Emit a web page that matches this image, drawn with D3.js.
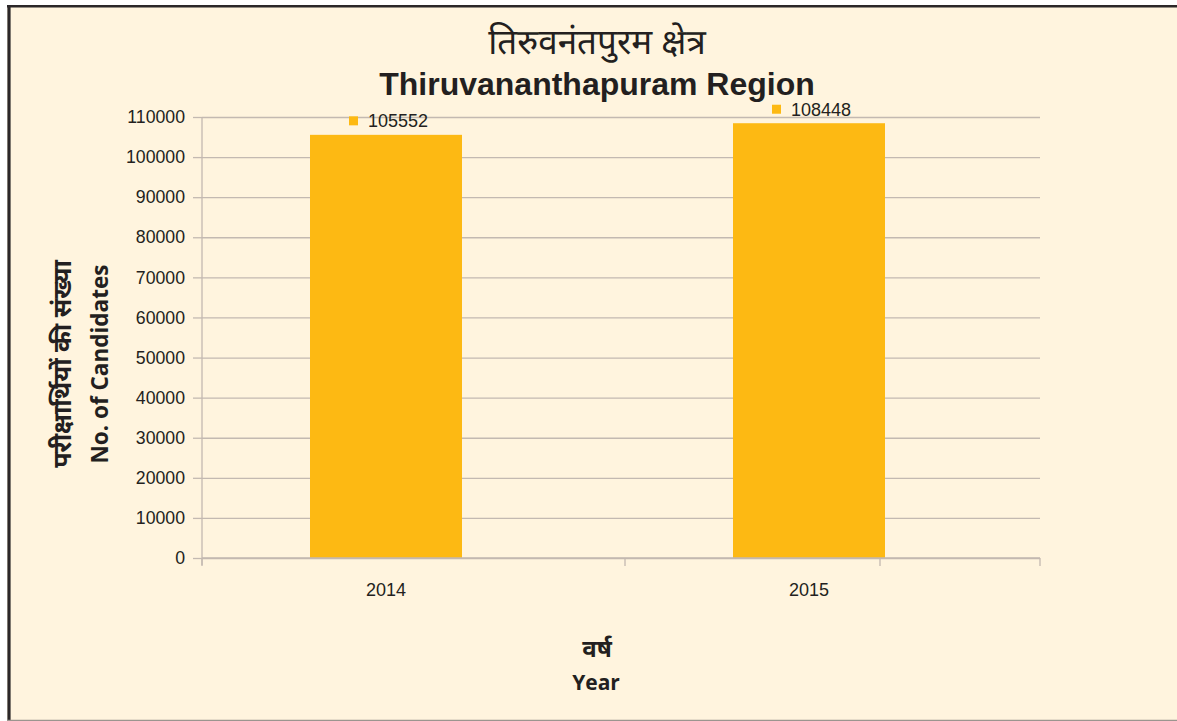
<!DOCTYPE html>
<html>
<head>
<meta charset="utf-8">
<script src="https://cdn.jsdelivr.net/npm/d3@7/dist/d3.min.js"></script>
<style>
  html, body { margin: 0; padding: 0; background: #ffffff; }
  svg { display: block; }
</style>
</head>
<body>
<svg id="chart" width="1177" height="721"></svg>
<script>
// Candidates per year, Thiruvananthapuram region
const categories = ["2014", "2015"];
const candidates = [105552, 108448];
const yTickValues = [0, 10000, 20000, 30000, 40000, 50000, 60000, 70000, 80000, 90000, 100000, 110000];

const titleHindi = "तिरुवनंतपुरम क्षेत्र";
const titleEnglish = "Thiruvananthapuram Region";
const yTitleHindi = "परीक्षार्थियों की संख्या";
const yTitleEnglish = "No. of Candidates";
const xTitleHindi = "वर्ष";
const xTitleEnglish = "Year";

const W = 1177, H = 721;
const plot = { left: 202, right: 1040, top: 117, bottom: 558 };
const barWidth = 152;
const barColor = "#FDB913";
const gridColor = "#C3B9B1";
const textColor = "#231F20";
const numFont = "'Liberation Sans', Arial, sans-serif";
const devaFont = "'Noto Sans Devanagari', 'Noto Sans', 'Lohit Devanagari', sans-serif";

const svg = d3.select("#chart");

// panel background and frame
svg.append("rect").attr("x", 7).attr("y", 5).attr("width", W - 7).attr("height", H - 5)
  .attr("fill", "#FFF4DE");
svg.append("line").attr("x1", 7).attr("x2", W).attr("y1", 6.2).attr("y2", 6.2)
  .attr("stroke", "#2B2728").attr("stroke-width", 2.5);
svg.append("line").attr("x1", 9).attr("x2", 9).attr("y1", 5).attr("y2", H)
  .attr("stroke", "#2B2728").attr("stroke-width", 3.2);
svg.append("line").attr("x1", 7).attr("x2", W).attr("y1", 720.5).attr("y2", 720.5)
  .attr("stroke", "#9B958F").attr("stroke-width", 1.5);

const y = d3.scaleLinear().domain([0, 110000]).range([plot.bottom, plot.top]);
const x = d3.scalePoint().domain(categories).range([386, 809]);

// horizontal gridlines
svg.append("g")
  .attr("transform", `translate(${plot.left},0)`)
  .call(d3.axisLeft(y).tickValues(yTickValues).tickSize(-(plot.right - plot.left)).tickFormat(""))
  .call(g => g.select(".domain").remove())
  .call(g => g.selectAll(".tick line").attr("stroke", gridColor).attr("stroke-width", 1.3));

// y axis with labels
svg.append("g")
  .attr("transform", `translate(${plot.left},0)`)
  .call(d3.axisLeft(y).tickValues(yTickValues).tickSize(9).tickPadding(8).tickFormat(d3.format("d")))
  .call(g => g.select(".domain").attr("d", `M0,${plot.top}V${plot.bottom + 7}`)
      .attr("stroke", gridColor).attr("stroke-width", 1.3))
  .call(g => g.selectAll(".tick line").attr("stroke", gridColor).attr("stroke-width", 1.3))
  .call(g => g.selectAll(".tick text")
      .attr("fill", textColor)
      .style("font-family", numFont)
      .style("font-size", "17.7px"));

// bars
svg.append("g").selectAll("rect")
  .data(candidates)
  .join("rect")
  .attr("x", (d, i) => x(categories[i]) - barWidth / 2)
  .attr("width", barWidth)
  .attr("y", d => y(d))
  .attr("height", d => y(0) - y(d))
  .attr("fill", barColor);

// x axis baseline with boundary ticks
const xAxisTicks = [plot.left, 625, 880, plot.right];
const xa = svg.append("g");
xa.append("line").attr("x1", plot.left).attr("x2", plot.right)
  .attr("y1", plot.bottom).attr("y2", plot.bottom)
  .attr("stroke", gridColor).attr("stroke-width", 1.5);
xa.selectAll("line.tk").data(xAxisTicks).join("line").attr("class", "tk")
  .attr("x1", d => d).attr("x2", d => d)
  .attr("y1", plot.bottom).attr("y2", plot.bottom + 8)
  .attr("stroke", gridColor).attr("stroke-width", 1.3);
xa.selectAll("text").data(categories).join("text")
  .attr("x", d => x(d)).attr("y", 596)
  .attr("text-anchor", "middle")
  .attr("fill", textColor)
  .style("font-family", numFont)
  .style("font-size", "18px")
  .text(d => d);

// value labels with series marker
const lbl = svg.append("g").selectAll("g")
  .data(candidates)
  .join("g")
  .attr("transform", (d, i) => `translate(${x(categories[i])},${y(d) - 14})`);
lbl.append("rect").attr("x", -37).attr("y", -4.5).attr("width", 9).attr("height", 9).attr("fill", barColor);
lbl.append("text").attr("x", -18).attr("y", 6.5)
  .attr("fill", textColor)
  .style("font-family", numFont)
  .style("font-size", "18px")
  .text(d => d);

// titles
svg.append("text").attr("x", 597).attr("y", 54).attr("text-anchor", "middle")
  .attr("fill", textColor)
  .style("font-family", devaFont).style("font-size", "35px")
  .text(titleHindi);
svg.append("text").attr("x", 597).attr("y", 95).attr("text-anchor", "middle")
  .attr("fill", textColor)
  .style("font-family", numFont).style("font-weight", "bold").style("font-size", "32px")
  .text(titleEnglish);

// y axis titles
svg.append("text").attr("transform", "translate(71,364) rotate(-90)").attr("text-anchor", "middle")
  .attr("fill", textColor)
  .style("font-family", devaFont).style("font-weight", "bold").style("font-size", "25px")
  .text(yTitleHindi);
svg.append("text").attr("transform", "translate(108,364) rotate(-90)").attr("text-anchor", "middle")
  .attr("fill", textColor)
  .style("font-family", "'Open Sans', sans-serif").style("font-weight", "bold").style("font-size", "22.5px")
  .text(yTitleEnglish);

// x axis titles
svg.append("text").attr("x", 597).attr("y", 657).attr("text-anchor", "middle")
  .attr("fill", textColor)
  .style("font-family", devaFont).style("font-weight", "bold").style("font-size", "24px")
  .text(xTitleHindi);
svg.append("text").attr("x", 596).attr("y", 690).attr("text-anchor", "middle")
  .attr("fill", textColor)
  .style("font-family", "'Open Sans', sans-serif").style("font-weight", "bold").style("font-size", "21px")
  .text(xTitleEnglish);
</script>
</body>
</html>
